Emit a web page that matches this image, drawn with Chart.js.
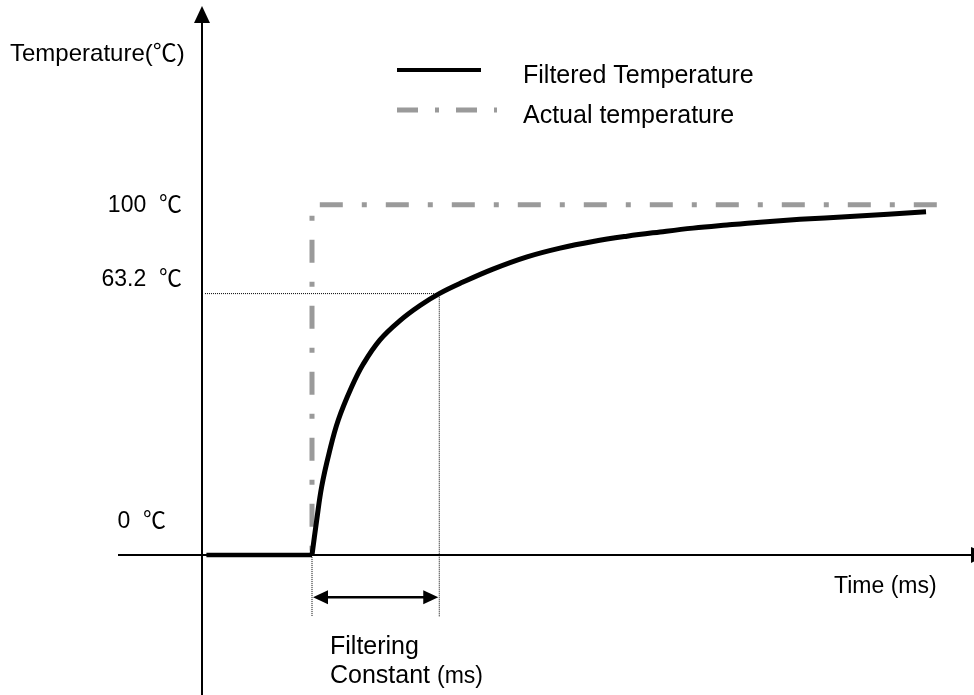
<!DOCTYPE html>
<html>
<head>
<meta charset="utf-8">
<script src="https://cdn.jsdelivr.net/npm/chart.js@4"></script>
<style>
  html, body { margin: 0; padding: 0; background: #fff; }
  canvas { display: block; }
</style>
</head>
<body>
<canvas id="myChart" width="974" height="695"></canvas>
<script>
// filtered temperature before the step (flat at 0)
const baseTime = [0.4, 10];
const baseTemp = [0, 0];

// filtered (first order) response after the step
const filteredTime = [10, 10.43, 10.88, 11.55, 12.39, 13.61, 14.66, 16.18, 18.0, 19.82, 21.57, 23.73, 26.45, 29.55, 32.55, 35.55, 38.64, 41.64, 44.64, 47.73, 50.73, 54.36, 58.91, 65.82];
const filteredTemp = [0, 10.0, 19.5, 29.0, 38.5, 48.0, 54.5, 61.4, 66.9, 71.2, 74.6, 77.9, 81.6, 85.1, 87.6, 89.5, 91.0, 92.2, 93.3, 94.2, 95.0, 95.8, 96.6, 98.0];

// step of the real temperature (listed from the right end back to the step)
const actualTime = [66.8, 10, 10];
const actualTemp = [100, 100, 0];

// dotted guides at the filtering constant
const tauGuideTime = [0.27, 21.57, 21.57];
const tauGuideTemp = [74.6, 74.6, -17.7];
const stepGuideTime = [10, 10];
const stepGuideTemp = [0, -17.7];

const stepTime = 10;
const tauTime = 21.57;
const yTickValues = [100, 74.6, 0];
const yTickLabels = ["100  ℃", "63.2  ℃", "0  ℃"];

const FONT = '"Liberation Sans", Arial, "Noto Sans CJK KR", sans-serif';

function toPoints(xs, ys) {
  return xs.map((x, i) => ({ x: x, y: ys[i] }));
}

function arrowHead(ctx, tipX, tipY, dx, dy, len, half) {
  // dx, dy: unit direction the arrow points to
  ctx.beginPath();
  ctx.moveTo(tipX, tipY);
  ctx.lineTo(tipX - dx * len - dy * half, tipY - dy * len + dx * half);
  ctx.lineTo(tipX - dx * len + dy * half, tipY - dy * len - dx * half);
  ctx.closePath();
  ctx.fill();
}

const diagram = {
  id: "diagram",
  beforeDatasetsDraw(chart) {
    const { ctx, scales } = chart;
    const x0 = scales.x.getPixelForValue(0);
    const y0 = scales.y.getPixelForValue(0);
    ctx.save();
    ctx.strokeStyle = "#000";
    ctx.fillStyle = "#000";
    ctx.lineWidth = 2;
    // y axis
    ctx.beginPath();
    ctx.moveTo(x0, 695);
    ctx.lineTo(x0, 20);
    ctx.stroke();
    arrowHead(ctx, x0, 6, 0, -1, 17, 8);
    // x axis
    ctx.beginPath();
    ctx.moveTo(118, y0);
    ctx.lineTo(975, y0);
    ctx.stroke();
    arrowHead(ctx, 988, y0, 1, 0, 17, 8);
    ctx.restore();
  },
  afterDraw(chart) {
    const { ctx, scales } = chart;
    const xs = scales.x, ys = scales.y;
    ctx.save();
    ctx.fillStyle = "#000";
    ctx.textBaseline = "alphabetic";

    // axis titles
    ctx.font = "24px " + FONT;
    ctx.textAlign = "left";
    ctx.fillText("Temperature(℃)", 10, 61);
    ctx.font = "23px " + FONT;
    ctx.fillText("Time (ms)", 834, 593);

    // temperature marks
    ctx.textAlign = "right";
    const tickRight = [182, 182, 166];
    const tickShift = [7, -8, -27];
    yTickValues.forEach((v, i) => {
      ctx.fillText(yTickLabels[i], tickRight[i], ys.getPixelForValue(v) + tickShift[i]);
    });

    // filtering constant arrow
    const xa = xs.getPixelForValue(stepTime);
    const xb = xs.getPixelForValue(tauTime);
    const ya = ys.getPixelForValue(-12.1);
    ctx.strokeStyle = "#000";
    ctx.lineWidth = 2.5;
    ctx.beginPath();
    ctx.moveTo(xa + 10, ya);
    ctx.lineTo(xb - 10, ya);
    ctx.stroke();
    arrowHead(ctx, xa + 1, ya, -1, 0, 15, 7);
    arrowHead(ctx, xb - 1, ya, 1, 0, 15, 7);

    ctx.textAlign = "left";
    ctx.font = "25px " + FONT;
    ctx.fillText("Filtering", 330, 654);
    ctx.fillText("Constant ", 330, 683);
    const w = ctx.measureText("Constant ").width;
    ctx.font = "23px " + FONT;
    ctx.fillText("(ms)", 330 + w, 683);

    // legend
    const legendDash = [[], [21, 17, 4, 17]];
    const legendLen = [84, 100];
    const legendY = [70, 110];
    ctx.lineCap = "butt";
    [0, 1].forEach((i) => {
      const ds = chart.data.datasets[i];
      ctx.strokeStyle = ds.borderColor;
      ctx.lineWidth = i === 0 ? 4 : ds.borderWidth;
      ctx.setLineDash(legendDash[i]);
      ctx.beginPath();
      ctx.moveTo(397, legendY[i]);
      ctx.lineTo(397 + legendLen[i], legendY[i]);
      ctx.stroke();
      ctx.setLineDash([]);
      ctx.font = "25px " + FONT;
      ctx.fillStyle = "#000";
      ctx.fillText(ds.label, 523, legendY[i] + 13);
    });
    ctx.restore();
  }
};

const ctx = document.getElementById("myChart").getContext("2d");

const myChart = new Chart(ctx, {
  type: "scatter",
  data: {
    datasets: [
      {
        label: "Filtered Temperature",
        data: toPoints(filteredTime, filteredTemp),
        showLine: true,
        borderColor: "#000000",
        borderWidth: 5,
        pointRadius: 0,
        tension: 0.4,
        order: 0,
      },
      {
        label: "Actual temperature",
        data: toPoints(actualTime, actualTemp),
        showLine: true,
        borderColor: "#9a9a9a",
        borderWidth: 5,
        borderDash: [23, 19, 5, 19],
        borderCapStyle: "butt",
        pointRadius: 0,
        tension: 0,
        order: 1,
      },
      {
        label: "Filtered Temperature (before step)",
        data: toPoints(baseTime, baseTemp),
        showLine: true,
        borderColor: "#000000",
        borderWidth: 4.5,
        pointRadius: 0,
        tension: 0,
        order: 0,
      },
      {
        label: "tau guide",
        data: toPoints(tauGuideTime, tauGuideTemp),
        showLine: true,
        borderColor: "#000000",
        borderWidth: 1,
        borderDash: [1, 1],
        pointRadius: 0,
        order: 2,
      },
      {
        label: "step guide",
        data: toPoints(stepGuideTime, stepGuideTemp),
        showLine: true,
        borderColor: "#000000",
        borderWidth: 1,
        borderDash: [1, 1],
        pointRadius: 0,
        order: 2,
      },
    ],
  },
  options: {
    responsive: false,
    animation: false,
    layout: { padding: { left: 114, right: 2, top: 5, bottom: 0 } },
    scales: {
      x: { type: "linear", min: -8, max: 70, display: false },
      y: { type: "linear", min: -40, max: 157, display: false },
    },
    plugins: {
      legend: { display: false },
      tooltip: { enabled: false },
    },
  },
  plugins: [diagram],
});
</script>
</body>
</html>
